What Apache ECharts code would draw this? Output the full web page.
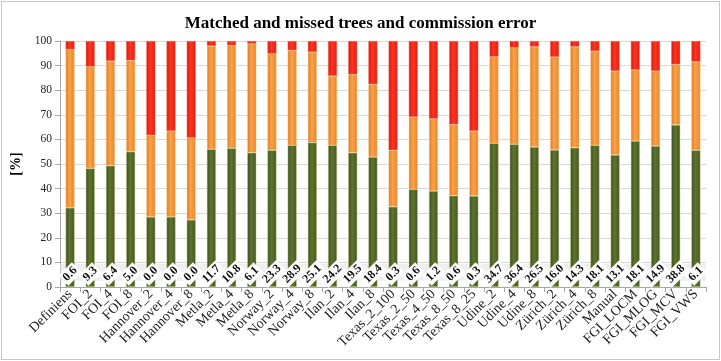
<!DOCTYPE html>
<html>
<head>
<meta charset="utf-8">
<script src="https://cdn.jsdelivr.net/npm/echarts@6/dist/echarts.min.js"></script>
<style>
    html, body { margin: 0; padding: 0; background: #fff; }
    #chart {
        position: absolute; left: 1px; top: 1px;
        width: 717px; height: 357px;
        border: 1px solid #c8c8c8;
    }
</style>
</head>
<body>
<div id="chart"></div>
<script>
    const categories = ['Definiens','FOI_2','FOI_4','FOI_8','Hannover_2','Hannover_4','Hannover_8',
        'Metla_2','Metla_4','Metla_8','Norway_2','Norway_4','Norway_8','Ilan_2','Ilan_4','Ilan_8',
        'Texas_2_100','Texas_2_50','Texas_4_50','Texas_8_50','Texas_8_25','Udine_2','Udine_4','Udine_8',
        'Zürich_2','Zürich_4','Zürich_8','Manual','FGI_LOCM','FGI_MLOG','FGI_MCV','FGI_VWS'];

    // matched trees [%]
    const matched = [32.2,48.2,49.3,55.0,28.5,28.5,27.3,56.0,56.4,54.6,55.6,57.6,58.7,57.6,54.6,52.8,
        32.6,39.7,39.0,37.1,37.0,58.4,58.0,56.9,55.7,56.6,57.6,53.7,59.3,57.3,65.9,55.6];
    // missed trees [%]
    const missed = [64.4,41.4,42.6,37.1,33.2,34.9,33.4,42.0,41.8,44.3,39.2,38.6,36.8,28.2,31.8,29.6,
        23.0,29.4,29.4,29.0,26.4,35.2,39.3,40.8,37.8,41.1,38.3,34.1,29.0,30.5,24.6,36.0];
    // commission error [%]
    const commission = [3.4,10.4,8.1,7.9,38.3,36.6,39.3,2.0,1.8,1.1,5.2,3.8,4.5,14.2,13.6,17.6,
        44.4,30.9,31.6,33.9,36.6,6.4,2.7,2.3,6.5,2.3,4.1,12.2,11.7,12.2,9.5,8.4];
    // numbers printed at the foot of the bars
    const footLabels = ['0.6','9.3','6.4','5.0','0.0','0.0','0.0','11.7','10.8','6.1','23.3','28.9','25.1',
        '24.2','19.5','18.4','0.3','0.6','1.2','0.6','0.3','34.7','36.4','26.5','16.0','14.3','18.1',
        '13.1','18.1','14.9','38.8','6.1'];

    const serif = '"Liberation Serif", "DejaVu Serif", serif';

    function grad(dark, mid, light) {
        return new echarts.graphic.LinearGradient(0, 0, 1, 0, [
            { offset: 0, color: dark },
            { offset: 0.45, color: light },
            { offset: 1, color: mid }
        ]);
    }

    const chart = echarts.init(document.getElementById('chart'));
    const option = {
        animation: false,
        title: {
            text: 'Matched and missed trees and commission error',
            left: 'center',
            top: 8,
            textStyle: { fontFamily: serif, fontSize: 17, fontWeight: 'bold', color: '#000' }
        },
        grid: { left: 58, right: 13, top: 39, bottom: 72, containLabel: false, outerBoundsMode: 'none' },
        xAxis: {
            type: 'category',
            data: categories,
            axisLine: { lineStyle: { color: '#a6a6a6' } },
            axisTick: { show: true, alignWithLabel: false, lineStyle: { color: '#a6a6a6' } },
            axisLabel: {
                interval: 0, rotate: 45, margin: 5,
                hideOverlap: false,
                width: 200, overflow: 'none',
                fontFamily: serif, fontSize: 14, color: '#222'
            }
        },
        yAxis: {
            type: 'value',
            min: 0, max: 100, interval: 10,
            name: '[%]',
            nameLocation: 'middle',
            nameGap: 34,
            nameRotate: 90,
            nameTextStyle: { fontFamily: serif, fontSize: 14, fontWeight: 'bold', color: '#000' },
            axisLine: { show: true, lineStyle: { color: '#a6a6a6' } },
            axisTick: { show: true, lineStyle: { color: '#a6a6a6' } },
            axisLabel: { fontFamily: serif, fontSize: 11.5, color: '#222', margin: 8 },
            splitLine: { lineStyle: { color: '#d9d9d9' } }
        },
        series: [
            {
                name: 'matched',
                type: 'bar',
                stack: 'all',
                barWidth: 9,
                data: matched,
                itemStyle: { color: grad('#3d4d1e', '#45561f', '#5e7530'), borderColor: '#c8d08a', borderWidth: 0.5 },
                markArea: {
                    silent: true,
                    itemStyle: { color: 'rgba(225,225,225,0.55)' },
                    data: [[{ yAxis: 2.5 }, { yAxis: 9.5 }]]
                },
                label: {
                    show: true,
                    position: ['50%', '100%'],
                    // offset is applied in the rotated frame: this moves the label straight up ~13px
                    offset: [9.2, -9.2],
                    rotate: 45,
                    align: 'center',
                    verticalAlign: 'middle',
                    formatter: p => footLabels[p.dataIndex],
                    fontFamily: serif,
                    fontSize: 12,
                    fontWeight: 'bold',
                    color: '#111',
                    backgroundColor: '#fff',
                    padding: [1, 2]
                },
                z: 3
            },
            {
                name: 'missed',
                type: 'bar',
                stack: 'all',
                barWidth: 9,
                data: missed,
                itemStyle: { color: grad('#e07a1e', '#e8842a', '#f9a24a'), borderColor: '#f6d090', borderWidth: 0.5 }
            },
            {
                name: 'commission',
                type: 'bar',
                stack: 'all',
                barWidth: 9,
                data: commission,
                itemStyle: { color: grad('#d4180e', '#e01e12', '#ff3420'), borderColor: '#f07a60', borderWidth: 0.5 }
            }
        ]
    };
    chart.setOption(option, true);
</script>
</body>
</html>
